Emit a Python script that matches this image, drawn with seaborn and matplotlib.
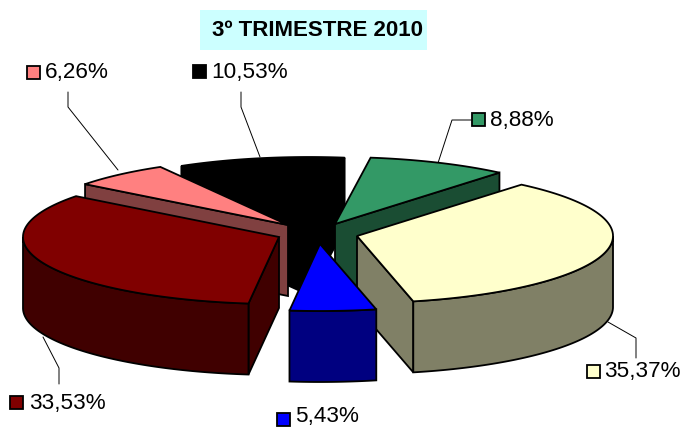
import numpy as np
import matplotlib
matplotlib.use("Agg")
import matplotlib.pyplot as plt
from matplotlib.patches import Polygon, Rectangle
import seaborn as sns

# --- data -------------------------------------------------------------
title_text = "3º TRIMESTRE 2010"
values = [8.88, 35.37, 5.43, 33.53, 6.26, 10.53]
colors = ["#339966", "#FFFFCC", "#0000FF", "#800000", "#FF8080", "#000000"]

# --- layout (pixel scale of the canvas) --------------------------------
W, H = 683, 428
START = 8.0
RX, RY, DEPTH = 256.0, 67.0, 71.0
apex = [(335, 224), (357, 236), (320, 244), (279, 237), (288, 225), (309, 224)]
draw_order = [5, 4, 0, 1, 2, 3]
key_xy = [(472, 113), (587, 365), (277, 413), (10, 396), (27, 66), (193, 65)]
label_xy = [(490, 120), (604, 372), (295, 416.5), (29, 403), (45, 72), (211, 72)]
leaders = [
    [(471, 120), (452, 120), (438, 163)],
    [(608, 322), (636, 338), (636, 358)],
    [],
    [(59, 384), (59, 368), (43, 337)],
    [(68, 92), (68, 107), (118, 170)],
    [(241, 92), (241, 107), (260, 157)],
]

sns.set_theme(style="white")
plt.rcParams["font.family"] = ["Liberation Sans", "DejaVu Sans"]
palette = sns.color_palette(colors)
fig = plt.figure(figsize=(W / 100, H / 100), dpi=100, facecolor="white")
ax = fig.add_axes([0, 0, 1, 1])
ax.set_xlim(0, W)
ax.set_ylim(H, 0)
ax.axis("off")
LW = 1.3


def pt(c, t, dz=0.0):
    r = np.deg2rad(t)
    return np.array([c[0] + RX * np.sin(r), c[1] - RY * np.cos(r) + dz])


def arc(c, t0, t1, dz=0.0):
    ts = np.linspace(t0, t1, max(int(abs(t1 - t0)) * 2, 2))
    return np.array([pt(c, t, dz) for t in ts])


edges = np.concatenate([[0], np.cumsum(values)]) * 3.6 + START

for z, i in enumerate(draw_order):
    t0, t1 = edges[i], edges[i + 1]
    c = apex[i]
    top = np.array(palette[i])
    side = tuple(top * 0.5)
    kw = dict(closed=True, ec="black", lw=LW, joinstyle="miter", zorder=10 + z)
    # visible radial cut faces
    for t, vis in ((t0, np.sin(np.deg2rad(t0)) < 0), (t1, np.sin(np.deg2rad(t1)) > 0)):
        if vis:
            p = pt(c, t)
            q = pt(c, t, DEPTH)
            ax.add_patch(Polygon([c, p, q, (c[0], c[1] + DEPTH)], fc=side, **kw))
    # visible outer wall (front half of the ellipse)
    for k in (0, 360):
        a, b = max(t0, 90 + k), min(t1, 270 + k)
        if a < b:
            upper = arc(c, a, b)
            lower = arc(c, a, b, DEPTH)[::-1]
            ax.add_patch(Polygon(np.vstack([upper, lower]), fc=side, **kw))
    # top face
    ax.add_patch(Polygon(np.vstack([[c], arc(c, t0, t1)]), fc=top, **kw))

# leader lines
for pts in leaders:
    if pts:
        xs, ys = zip(*pts)
        ax.plot(xs, ys, color="black", lw=0.7, zorder=5)

# labels with colour keys
for i, v in enumerate(values):
    kx, ky = key_xy[i]
    ax.add_patch(Rectangle((kx, ky), 13, 13, fc=palette[i], ec="black", lw=1.3, zorder=30))
    ax.text(*label_xy[i], f"{v:.2f}%".replace(".", ","), fontsize=16.2, color="black",
            ha="left", va="center", zorder=30)

# title
ax.add_patch(Rectangle((200, 10), 227, 40, fc="#CCFFFF", ec="none", zorder=1))
ax.text(317, 30, title_text, fontsize=16, fontweight="bold", color="black",
        ha="center", va="center", zorder=2)

fig.savefig("out.png", dpi=100, facecolor="white")
